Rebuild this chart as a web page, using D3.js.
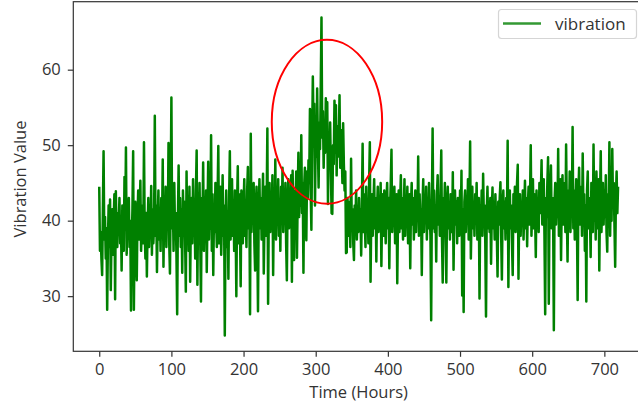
<!DOCTYPE html>
<html>
<head>
<meta charset="utf-8">
<script src="https://d3js.org/d3.v7.min.js"></script>
<style>
  body { margin: 0; background: #fff; }
  text { font-family: "Open Sans", sans-serif; }
</style>
</head>
<body>
<div id="chart"></div>
<script>
// hourly vibration readings (hour 0 .. 719)
var vibration = [
  44.5,36.0,38.5,35.0,32.8,41.0,49.2,37.5,40.5,35.0,39.0,28.2,37.0,42.0,36.5,42.8,30.8,38.0,41.5,35.5,
  40.0,43.5,29.6,43.9,38.0,36.5,41.0,39.5,43.0,37.0,40.5,33.4,42.0,38.5,36.0,45.8,39.0,49.7,35.5,41.0,
  38.0,43.0,36.5,40.0,28.1,37.0,41.5,49.2,28.2,39.0,42.5,36.0,32.1,40.5,44.0,37.5,41.0,45.3,36.0,39.5,
  42.0,37.0,50.4,38.5,35.0,41.0,32.6,39.0,43.0,36.5,40.0,38.0,44.6,35.5,41.5,37.0,39.5,53.9,38.0,42.0,
  33.2,40.0,44.0,37.5,41.0,36.0,43.0,39.0,48.1,33.9,41.5,38.0,44.5,36.5,42.0,39.0,50.3,37.0,33.0,43.5,
  56.3,39.0,42.5,36.0,45.0,38.5,41.0,35.5,27.6,40.0,47.3,38.0,43.0,36.5,41.5,33.1,44.0,39.0,42.5,37.5,
  30.6,46.5,38.0,42.0,36.0,44.5,31.9,40.5,43.0,37.0,45.5,39.0,42.0,35.0,44.0,49.3,31.5,41.0,38.5,45.0,
  37.0,29.3,43.0,39.5,47.7,36.0,42.5,38.0,44.0,33.2,40.5,47.8,37.5,42.0,39.0,51.3,36.0,43.5,32.8,41.0,
  38.5,45.0,40.0,36.5,43.0,49.9,37.0,41.5,44.5,35.5,40.0,46.0,38.0,42.0,24.8,39.0,44.0,36.5,41.0,32.3,
  43.0,49.2,37.5,41.0,45.5,38.0,42.5,36.0,44.0,39.5,30.0,42.0,47.2,37.0,43.5,39.0,31.3,44.0,40.5,37.0,
  42.0,45.5,38.0,41.0,36.5,44.0,47.1,39.0,42.5,27.6,51.5,38.5,43.0,40.0,45.0,37.0,33.4,42.0,44.5,38.0,
  28.0,41.0,45.5,39.0,43.0,37.5,41.5,46.2,33.0,40.0,44.5,38.0,42.0,52.2,29.0,41.5,45.0,38.5,43.0,40.0,
  46.0,32.8,42.5,39.0,48.1,37.5,43.0,40.5,45.5,38.0,42.0,36.0,44.5,40.0,47.0,38.5,43.0,41.0,45.0,37.0,
  32.1,42.5,45.5,39.0,43.5,41.0,46.0,31.9,46.6,40.0,34.8,44.0,41.5,46.5,35.1,43.0,49.0,40.5,44.5,42.0,
  51.3,41.0,45.0,33.1,44.5,47.0,42.0,37.4,46.5,43.0,48.0,45.0,54.8,44.0,38.8,50.5,59.1,52.0,55.5,42.0,
  51.0,48.5,57.5,50.0,44.4,53.0,49.5,58.0,66.9,51.0,54.5,47.0,52.5,49.0,56.2,50.5,55.7,42.2,51.5,48.0,
  53.0,46.5,41.0,40.9,50.0,47.5,55.9,49.0,55.3,46.0,52.5,48.5,51.0,56.6,47.0,52.0,49.5,45.0,52.9,47.5,
  44.0,46.5,35.7,35.8,43.0,40.5,38.0,42.5,36.5,48.2,39.0,41.5,37.0,34.8,42.0,39.5,44.0,37.5,41.0,38.5,
  43.0,39.0,41.5,35.4,42.0,50.2,38.5,43.5,40.0,36.5,44.5,39.0,42.0,37.0,45.0,50.4,31.9,41.0,43.5,38.0,
  42.0,45.5,39.0,43.0,34.6,41.5,44.5,38.5,42.0,40.0,45.0,34.0,41.0,43.5,38.0,44.0,40.5,37.0,42.5,45.0,
  39.0,43.0,33.7,41.5,45.0,49.4,38.5,42.0,39.5,44.5,37.0,41.0,43.5,31.7,40.0,44.0,38.5,42.5,46.0,39.0,
  43.0,37.5,41.0,45.5,38.0,42.0,40.0,44.5,37.0,41.5,43.5,33.7,42.0,45.0,39.5,43.0,37.5,41.0,44.0,38.5,
  42.5,40.0,48.5,38.0,43.5,39.0,41.5,32.8,42.0,45.5,38.5,43.0,40.5,44.5,37.5,42.0,39.0,45.0,41.0,38.0,
  26.8,42.5,52.2,39.0,44.0,38.5,42.0,34.6,43.5,46.0,39.5,42.5,38.0,44.0,49.3,37.5,31.8,43.0,40.5,45.0,
  38.0,31.8,42.0,44.5,39.0,42.5,37.5,43.5,40.0,38.5,46.4,33.5,41.0,44.0,39.5,42.5,37.0,43.0,40.5,38.0,
  44.0,39.0,46.6,30.1,41.5,27.9,42.5,44.0,38.5,42.0,40.0,45.5,37.5,42.0,50.5,35.0,41.0,44.5,39.0,42.5,
  38.0,43.5,40.0,45.0,37.5,41.5,43.0,29.7,42.0,39.5,44.0,38.0,46.2,40.5,42.0,37.0,27.3,41.0,44.5,39.0,
  42.5,38.5,43.0,34.3,41.0,44.4,39.0,42.0,37.5,43.5,40.0,38.0,32.6,42.5,39.5,43.0,45.1,38.0,32.2,42.0,
  44.0,39.0,42.5,37.5,43.0,40.5,50.6,31.2,41.5,44.0,39.0,42.0,37.0,32.8,43.5,40.0,44.5,38.5,42.0,45.0,
  47.4,32.3,41.0,43.5,38.0,42.5,40.0,44.0,37.5,41.5,45.3,39.0,43.0,36.6,42.0,44.5,39.5,43.0,50.0,38.0,
  42.0,45.5,39.0,43.5,41.0,35.2,44.0,40.0,42.5,38.5,45.0,41.0,43.5,48.0,39.5,42.0,45.5,38.0,27.6,43.0,
  40.5,45.0,48.4,29.0,42.0,44.5,47.3,39.0,43.0,41.0,25.5,42.5,45.0,39.5,43.0,40.5,49.5,38.0,42.0,45.5,
  34.8,43.0,46.0,39.5,42.5,45.0,38.5,50.1,41.0,34.6,44.0,40.0,46.5,38.5,43.0,41.5,52.4,39.0,44.0,37.5,
  42.0,45.5,40.0,29.5,43.5,47.0,39.5,42.0,44.5,38.0,48.9,41.0,43.5,36.0,42.0,29.3,44.0,46.5,39.0,43.0,
  41.0,35.2,45.0,42.0,38.5,50.1,40.0,44.0,37.5,46.5,42.0,39.0,45.5,33.4,43.0,49.2,38.5,42.5,45.0,39.5,
  44.0,40.5,46.0,38.5,35.9,43.5,41.0,50.4,38.0,44.5,40.0,49.5,42.0,45.0,39.5,33.9,43.0,46.5,41.0,44.5
];
var hours = vibration.map(function(v, i) { return i; });

var xTicks = [0, 100, 200, 300, 400, 500, 600, 700];
var yTicks = [30, 40, 50, 60];

// highlighted region (hour, value) and its half sizes
var mark = {hour: 315.6, value: 53.1, rHours: 76.5, rValue: 10.86};

var svgWidth = 638;
var svgHeight = 406;
// axes box - right edge runs past the picture
var margin = {top: 1.7, left: 73.3, right: -6, bottom: 54.7};
var chartWidth = svgWidth - margin.left - margin.right;
var chartHeight = svgHeight - margin.top - margin.bottom;

var svg = d3.select("#chart")
  .append("svg")
    .attr("width", svgWidth)
    .attr("height", svgHeight);

var chartGroup = svg.append("g")
  .attr("transform", `translate(${margin.left}, ${margin.top})`);

// matplotlib-like 5% margins
var xExt = d3.extent(hours);
var xPad = (xExt[1] - xExt[0]) * 0.05;
var x = d3.scaleLinear()
  .domain([xExt[0] - xPad, xExt[1] + xPad])
  .range([0, chartWidth]);

var yExt = d3.extent(vibration);
var yPad = (yExt[1] - yExt[0]) * 0.05;
var y = d3.scaleLinear()
  .domain([yExt[0] - yPad, yExt[1] + yPad])
  .range([chartHeight, 0]);

// the series
var line = d3.line()
  .x(function(d, i) { return x(hours[i]); })
  .y(function(d) { return y(d); });

chartGroup.append("path")
  .datum(vibration)
  .attr("d", line)
  .attr("fill", "none")
  .attr("stroke", "#008000")
  .attr("stroke-width", 2.5)
  .attr("stroke-linejoin", "round");

// red ellipse round the peak
chartGroup.append("ellipse")
  .attr("cx", x(mark.hour))
  .attr("cy", y(mark.value))
  .attr("rx", x(mark.hour + mark.rHours) - x(mark.hour))
  .attr("ry", y(mark.value - mark.rValue) - y(mark.value))
  .attr("fill", "none")
  .attr("stroke", "#ff0000")
  .attr("stroke-width", 2);

// axes
var bottomAxis = d3.axisBottom(x).tickValues(xTicks).tickSize(5.5).tickPadding(6.5);
var leftAxis = d3.axisLeft(y).tickValues(yTicks).tickSize(5.5).tickPadding(7);

var gx = chartGroup.append("g")
  .attr("transform", `translate(0, ${chartHeight})`)
  .call(bottomAxis);
var gy = chartGroup.append("g")
  .call(leftAxis);

[gx, gy].forEach(function(g) {
  g.select(".domain").remove();
  g.selectAll("line").attr("stroke", "#333").attr("stroke-width", 1.2);
  g.selectAll("text")
    .attr("fill", "#333")
    .style("font-size", "16.5px");
});

// frame
chartGroup.append("rect")
  .attr("x", 0)
  .attr("y", 0)
  .attr("width", chartWidth)
  .attr("height", chartHeight)
  .attr("fill", "none")
  .attr("stroke", "#333")
  .attr("stroke-width", 1.2);

// axis titles
svg.append("text")
  .attr("transform", "rotate(-90)")
  .attr("x", -179)
  .attr("y", 20)
  .attr("dy", "0.35em")
  .style("text-anchor", "middle")
  .style("font-size", "16.5px")
  .attr("fill", "#333")
  .text("Vibration Value");

svg.append("text")
  .attr("x", margin.left + chartWidth / 2)
  .attr("y", 398)
  .style("text-anchor", "middle")
  .style("font-size", "16.5px")
  .attr("fill", "#333")
  .text("Time (Hours)");

// legend
var legend = svg.append("g");
legend.append("rect")
  .attr("x", 498.5)
  .attr("y", 9.5)
  .attr("width", 138)
  .attr("height", 29)
  .attr("rx", 3)
  .attr("fill", "#fff")
  .attr("fill-opacity", 0.8)
  .attr("stroke", "#d5d5d5")
  .attr("stroke-width", 1.2);
legend.append("line")
  .attr("x1", 503)
  .attr("x2", 541)
  .attr("y1", 23.5)
  .attr("y2", 23.5)
  .attr("stroke", "#008000")
  .attr("stroke-opacity", 0.8)
  .attr("stroke-width", 2.5);
legend.append("text")
  .attr("x", 555)
  .attr("y", 29.5)
  .style("font-size", "17px")
  .attr("fill", "#333")
  .text("vibration");
</script>
</body>
</html>
